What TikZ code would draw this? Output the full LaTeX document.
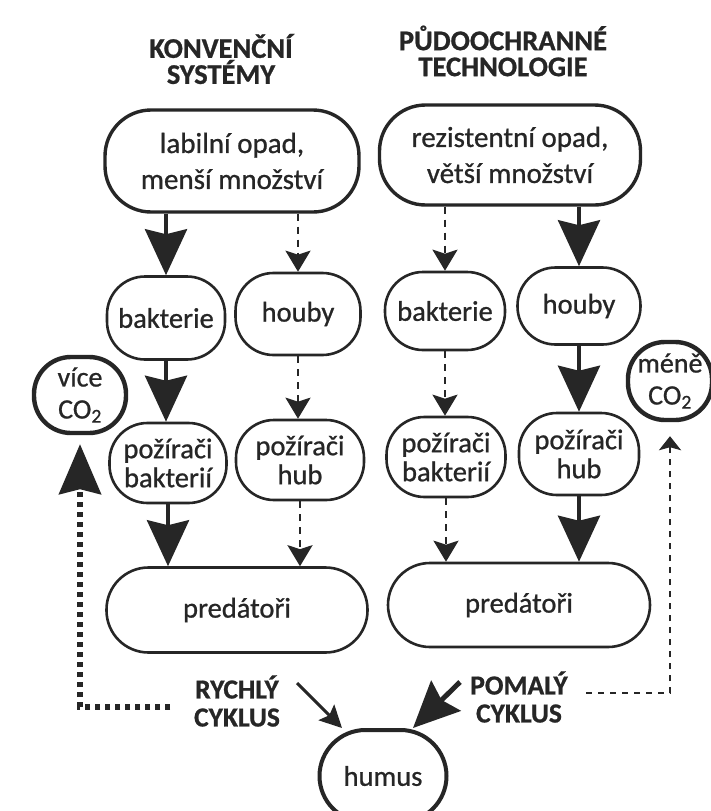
\documentclass[tikz,border=0pt]{standalone}
\usepackage{fontspec}
\setmainfont{Carlito}[FakeBold=0.8]
\usetikzlibrary{arrows.meta}
\definecolor{ink}{HTML}{262626}
\begin{document}
\begin{tikzpicture}[x=1pt,y=-1pt,
  box/.style={draw=ink, line width=2.6pt, rounded corners=38pt, align=center, inner sep=0pt,
    text=ink, font=\fontsize{28.5}{29}\selectfont},
  bigbox/.style={box, line width=3.4pt, rounded corners=46pt, font=\fontsize{29}{36}\selectfont},
  co2box/.style={box, line width=4.4pt, rounded corners=37pt, font=\fontsize{28}{32}\selectfont},
  ttl/.style={align=center, inner sep=0pt, text=ink, font=\bfseries\fontsize{28.5}{26}\selectfont},
  cyc/.style={align=center, inner sep=0pt, text=ink, font=\bfseries\fontsize{27.5}{28}\selectfont},
  solidarr/.style={draw=ink, line width=4pt, -{Stealth[length=46pt,width=42pt,inset=5pt]}},
  dasharr/.style={draw=ink, line width=2.6pt, dash pattern=on 7pt off 6pt, -{Stealth[length=21pt,width=25pt,inset=4pt]}},
  dotarr/.style={draw=ink, line width=5.5pt, dash pattern=on 5pt off 5pt, -{Stealth[length=50pt,width=42pt,inset=5pt]}},
  thindash/.style={draw=ink, line width=2.6pt, dash pattern=on 6pt off 6pt, -{Stealth[length=14pt,width=22pt,inset=3pt]}},
]
\useasboundingbox[fill=white] (0,0) rectangle (710,811);

% titles
\node[ttl] (t1) at (221,59) {KONVENČNÍ\\SYSTÉMY};
\node[ttl] (t2) at (503,51) {PŮDOOCHRANNÉ\\TECHNOLOGIE};

% top boxes
\node[bigbox, minimum width=254pt, minimum height=102pt] (tl) at (232,161) {labilní opad,\\menší množství};
\node[bigbox, minimum width=261pt, minimum height=100pt] (tr) at (510,155) {rezistentní opad,\\větší množství};

% row 2
\node[box, minimum width=118pt, minimum height=83pt] (bL) at (166,318) {bakterie};
\node[box, minimum width=125pt, minimum height=82pt] (hL) at (298,314) {houby};
\node[box, minimum width=120pt, minimum height=78pt] (bR) at (445,311) {bakterie};
\node[box, minimum width=123pt, minimum height=77pt] (hR) at (579,306) {houby};

% row 3
\node[box, minimum width=117pt, minimum height=80pt] (pbL) at (168,463) {požírači\\bakterií};
\node[box, minimum width=128pt, minimum height=80pt] (phL) at (300,460) {požírači\\hub};
\node[box, minimum width=119pt, minimum height=80pt] (pbR) at (446,457) {požírači\\bakterií};
\node[box, minimum width=120pt, minimum height=82pt] (phR) at (579,454) {požírači\\hub};

% predators
\node[box, minimum width=261pt, minimum height=85pt, rounded corners=42pt] (prL) at (237,610) {predátoři};
\node[box, minimum width=262pt, minimum height=84pt, rounded corners=42pt] (prR) at (519,605) {predátoři};

% CO2
\node[co2box, minimum width=92pt, minimum height=76pt] (co2L) at (80,395) {více\\CO\textsubscript{2}};
\node[co2box, minimum width=84pt, minimum height=78pt] (co2R) at (670,381) {méně\\CO\textsubscript{2}};

% humus
\node[box, line width=4pt, rounded corners=46pt, minimum width=127pt, minimum height=92pt] (humus) at (383,776) {humus};

% cycle labels
\node[cyc] (ry) at (237,701) {RYCHLÝ\\CYKLUS};
\node[cyc] (pm) at (519,697) {POMALÝ\\CYKLUS};

% flows
\draw[solidarr] (tl.south -| bL.north) -- (bL.north);
\draw[dasharr] (tl.south -| hL.north) -- (hL.north);
\draw[dasharr] (tr.south -| bR.north) -- (bR.north);
\draw[solidarr] (tr.south -| hR.north) -- (hR.north);

\draw[solidarr] (bL.south) -- (pbL.north -| bL.south);
\draw[dasharr] (hL.south) -- (phL.north -| hL.south);
\draw[dasharr] (bR.south) -- (pbR.north -| bR.south);
\draw[solidarr] (hR.south) -- (phR.north -| hR.south);

\draw[solidarr] (pbL.south) -- (prL.north -| pbL.south);
\draw[dasharr] (phL.south) -- (prL.north -| phL.south);
\draw[dasharr] (pbR.south) -- (prR.north -| pbR.south);
\draw[solidarr] (phR.south) -- (prR.north -| phR.south);

% feedback to CO2
\coordinate (lfEnd) at (170,707);
\coordinate (rfEnd) at (586,693);
\draw[dotarr, shorten >=9pt] (lfEnd) -| (co2L.south);
\draw[thindash, shorten >=14pt] (rfEnd) -| (co2R.south);

% to humus
\coordinate (ryStart) at (297,683);
\coordinate (pmStart) at (460,682);
\draw[draw=ink, line width=3pt, -{Stealth[length=22pt,width=22pt,inset=4pt]}] (ryStart) -- ([xshift=-41pt]humus.north);
\draw[draw=ink, line width=5pt, -{Stealth[length=46pt,width=42pt,inset=6pt]}] (pmStart) -- ([xshift=30pt]humus.north);
\end{tikzpicture}
\end{document}
